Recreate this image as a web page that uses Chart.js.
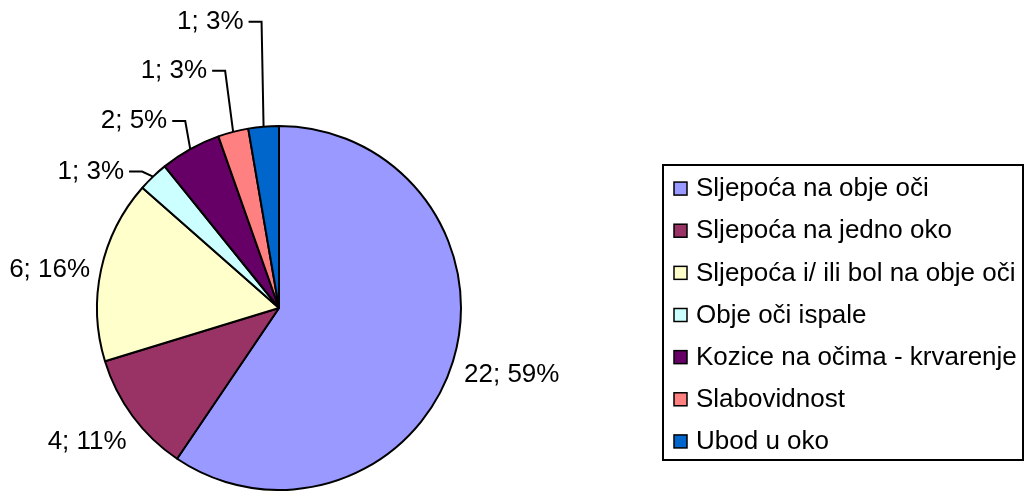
<!DOCTYPE html>
<html>
<head>
<meta charset="utf-8">
<script src="https://cdn.jsdelivr.net/npm/chart.js@4/dist/chart.umd.min.js"></script>
<style>
  html, body { margin: 0; padding: 0; background: #fff; }
  #chart { display: block; }
</style>
</head>
<body>
<canvas id="chart" width="1025" height="491"></canvas>
<script>
const categories = [
    'Sljepoća na obje oči',
    'Sljepoća na jedno oko',
    'Sljepoća i/ ili bol na obje oči',
    'Obje oči ispale',
    'Kozice na očima - krvarenje',
    'Slabovidnost',
    'Ubod u oko'
];
const counts = [22, 4, 6, 1, 2, 1, 1];
const colors = ['#9999FF', '#993366', '#FFFFCC', '#CCFFFF', '#660066', '#FF8080', '#0066CC'];

const FONT = '26px "Liberation Sans", Arial, sans-serif';

// label placement relative to the outer midpoint of each slice: dx, dy, align, leader line
const labelPlace = [
    [11, 14, 'left', false],
    [-6, 26, 'right', false],
    [-11, 0, 'right', false],
    [-11, -5, 'right', true],
    [-5, -28, 'right', true],
    [-8, -61, 'right', true],
    [-2, -105, 'right', true]
];

const sliceLabels = {
    id: 'sliceLabels',
    afterDatasetsDraw(chart) {
        const c = chart.ctx;
        const total = counts.reduce((a, b) => a + b, 0);
        const arcs = chart.getDatasetMeta(0).data;
        c.save();
        c.font = FONT;
        c.fillStyle = '#000';
        c.strokeStyle = '#000';
        c.lineWidth = 2;
        c.textBaseline = 'middle';
        arcs.forEach((arc, i) => {
            const p = arc.getProps(['x', 'y', 'startAngle', 'endAngle', 'outerRadius'], true);
            const a = (p.startAngle + p.endAngle) / 2;
            const ox = p.x + p.outerRadius * Math.cos(a);
            const oy = p.y + p.outerRadius * Math.sin(a);
            const [dx, dy, align, leader] = labelPlace[i];
            const text = counts[i] + '; ' + Math.round(counts[i] / total * 100) + '%';
            let tx = ox + dx, ty = oy + dy;
            if (leader) {
                c.beginPath();
                c.moveTo(ox, oy);
                c.lineTo(tx, ty);
                c.lineTo(tx - 13, ty);
                c.stroke();
                tx = tx - 18;
            }
            c.textAlign = align;
            c.fillText(text, tx, ty);
        });
        c.restore();
    }
};

const boxLegend = {
    id: 'boxLegend',
    afterDraw(chart) {
        const c = chart.ctx;
        const left = 663, top = 165, right = 1023, bottom = 460;
        const rowH = (bottom - top) / categories.length;
        c.save();
        c.strokeStyle = '#000';
        c.lineWidth = 2;
        c.strokeRect(left, top, right - left, bottom - top);
        c.font = FONT;
        c.textBaseline = 'middle';
        c.textAlign = 'left';
        categories.forEach((name, i) => {
            const cy = top + rowH * (i + 0.5) + 3;
            c.fillStyle = colors[i];
            c.fillRect(674, cy - 7, 13, 13);
            c.lineWidth = 1.5;
            c.strokeRect(674, cy - 7, 13, 13);
            c.fillStyle = '#000';
            c.fillText(name, 696, cy);
        });
        c.restore();
    }
};

new Chart(document.getElementById('chart'), {
    type: 'pie',
    data: {
        labels: categories,
        datasets: [{
            data: counts,
            backgroundColor: colors,
            borderColor: '#000',
            borderWidth: 2
        }]
    },
    options: {
        responsive: false,
        animation: false,
        layout: { padding: { left: 95, right: 562, top: 125, bottom: -2 } },
        plugins: {
            legend: { display: false },
            tooltip: { enabled: false }
        }
    },
    plugins: [sliceLabels, boxLegend]
});
</script>
</body>
</html>
